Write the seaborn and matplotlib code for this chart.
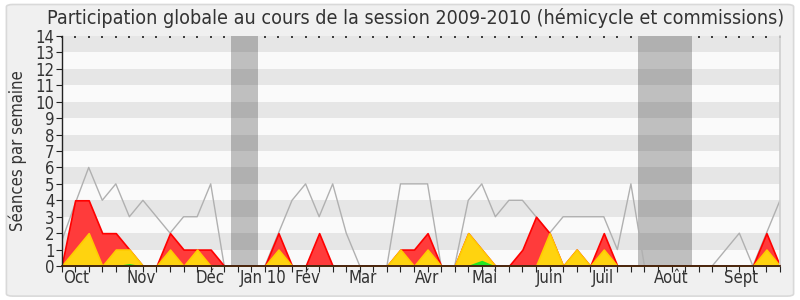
import numpy as np
import pandas as pd
import matplotlib
matplotlib.use("Agg")
import matplotlib.pyplot as plt
from matplotlib.patches import FancyBboxPatch
from matplotlib import font_manager
import seaborn as sns

# ---- data (weekly values, session 2009-2010) ----
weeks = list(range(54))
median_line = [1.5, 3.8, 6, 4, 5, 3, 4, 3, 2, 3, 3, 5, 0, 0, 0, 0, 2, 4, 5, 3,
               5, 2, 0, 0, 0, 5, 5, 5, 0, 0, 4, 5, 3, 4, 4, 3, 2, 3, 3, 3,
               3, 1, 5, 0, 0, 0, 0, 0, 0, 1, 2, 0, 2, 4]
presence = [0, 4, 4, 2, 2, 1, 0, 0, 2, 1, 1, 1, 0, 0, 0, 0, 2, 0, 0, 2,
            0, 0, 0, 0, 0, 1, 1, 2, 0, 0, 2, 1, 0, 0, 1, 3, 2, 0, 1, 0,
            2, 0, 0, 0, 0, 0, 0, 0, 0, 0, 0, 0, 2, 0]
interventions = [0, 1, 2, 0, 1, 1, 0, 0, 1, 0, 1, 0, 0, 0, 0, 0, 1, 0, 0, 0,
                 0, 0, 0, 0, 0, 1, 0, 1, 0, 0, 2, 1, 0, 0, 0, 0, 2, 0, 1, 0,
                 1, 0, 0, 0, 0, 0, 0, 0, 0, 0, 0, 0, 1, 0]
questions = [0, 0.04, 0.05, 0, 0.03, 0.15, 0, 0, 0, 0, 0, 0, 0, 0, 0, 0, 0, 0, 0, 0,
             0, 0, 0, 0, 0, 0, 0, 0, 0, 0, 0.05, 0.35, 0, 0, 0, 0, 0.03, 0, 0, 0,
             0, 0, 0, 0, 0, 0, 0, 0, 0, 0, 0, 0, 0.04, 0]
vacations = [(12.5, 14.5), (42.5, 46.5)]
month_labels = ["Oct", "Nov", "Déc", "Jan 10", "Fév", "Mar", "Avr", "Mai",
                "Juin", "Juil", "Août", "Sept"]
month_pos = [1.1, 5.9, 10.95, 14.9, 18.1, 22.2, 27.0, 31.2, 36.0, 39.9, 45.0, 50.1]
title = "Participation globale au cours de la session 2009-2010 (hémicycle et commissions)"
ylabel = "Séances par semaine"

df = pd.DataFrame({"week": weeks, "median": median_line, "presence": presence,
                   "interventions": interventions, "questions": questions})

sns.set_theme(style="white")

# choose a condensed font if one is installed
names = {(f.name, str(f.stretch)) for f in font_manager.fontManager.ttflist}
family = "DejaVu Sans"
stretch = "normal"
if any(n == "DejaVu Sans Condensed" for n, s in names):
    family = "DejaVu Sans Condensed"
elif any(n == "DejaVu Sans" and s in ("condensed", "semi-condensed") for n, s in names):
    stretch = "condensed"
elif any(n == "Liberation Sans Narrow" for n, s in names):
    family = "Liberation Sans Narrow"
condensed = (family != "DejaVu Sans") or stretch != "normal"
plt.rcParams["font.family"] = [family, "DejaVu Sans"]
plt.rcParams["font.stretch"] = stretch

fs_tick = 12 if condensed else 11
fs_title = 14.1 if condensed else 12.6

fig = plt.figure(figsize=(8, 3), dpi=100)
fig.patch.set_facecolor("white")
fig.patches.append(FancyBboxPatch((0.008, 0.013), 0.984, 0.972,
                                  boxstyle="round,pad=0,rounding_size=0.008",
                                  transform=fig.transFigure, facecolor="#f0f0f0",
                                  edgecolor="#d9d9d9", linewidth=1.2, zorder=-10))

ax = fig.add_axes([0.077, 0.1133, 0.898, 0.7667])
ax.set_facecolor("#fafafa")

for a, b in vacations:
    ax.axvspan(a, b, color="#bfbfbf", zorder=0.5, lw=0)
for y0 in range(1, 14, 2):
    ax.axhspan(y0, y0 + 1, color="black", alpha=0.08, zorder=0.6, lw=0)

ax.fill_between(df["week"], 0, df["presence"], color="#ff3b3b", edgecolor="#ff0000",
                linewidth=1.2, zorder=2.0)
ax.fill_between(df["week"], 0, df["interventions"], color="#ffd30f", edgecolor="#ffcc00",
                linewidth=1.2, zorder=2.1)
ax.fill_between(df["week"], 0, df["questions"], color="#22e622", linewidth=0, zorder=2.2)
sns.lineplot(data=df, x="week", y="median", color="#b0b0b0", linewidth=1.0, ax=ax,
             zorder=1.5)

ax.set_xlim(0, 53)
ax.set_ylim(0, 14)
ax.xaxis.remove_overlapping_locs = False
ax.set_yticks(range(0, 15))
ax.set_yticklabels([str(v) for v in range(0, 15)], fontsize=fs_tick, color="#333333")
ax.set_xticks(weeks)
ax.set_xticklabels([""] * len(weeks))
ax.set_xticks(month_pos, minor=True)
ax.set_xticklabels(month_labels, minor=True, fontsize=fs_tick, color="#333333")
ax.tick_params(axis="x", which="major", direction="out", length=4, width=0.8,
               color="#222222", bottom=True, top=False)
ax.tick_params(axis="x", which="minor", length=0, pad=2)
ax.tick_params(axis="y", direction="out", length=4, width=0.8, color="#222222",
               left=True, pad=1)
ax.set_xlabel("")
ax.set_ylabel(ylabel, fontsize=fs_tick, color="#333333", labelpad=6)

ax.spines["top"].set_visible(False)
ax.spines["right"].set_color("#d0d0d0")
ax.spines["left"].set_color("#222222")
ax.spines["bottom"].set_color("#3a1a10")
ax.spines["left"].set_linewidth(1.0)
ax.spines["bottom"].set_linewidth(1.3)
for s in ax.spines.values():
    s.set_zorder(5)

# top dotted ticks
sec = ax.secondary_xaxis("top")
sec.set_xticks(weeks)
sec.set_xticklabels([""] * len(weeks))
sec.tick_params(direction="in", length=1.5, width=1.2, color="#222222")
sec.spines["top"].set_visible(False)

fig.text(0.52, 0.94, title, ha="center", va="center", fontsize=fs_title, color="#333333")

fig.savefig("out.png", dpi=100)
